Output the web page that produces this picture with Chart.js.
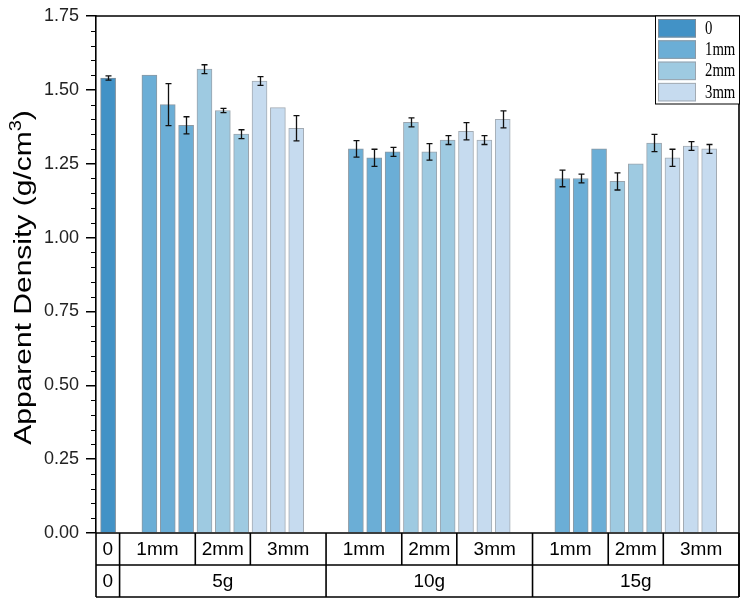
<!DOCTYPE html>
<html>
<head>
<meta charset="utf-8">
<script src="https://cdn.jsdelivr.net/npm/chart.js@4.4.0/dist/chart.umd.min.js"></script>
<style>
html, body { margin: 0; padding: 0; background: #fff; }
#wrap { width: 745px; height: 602px; }
</style>
</head>
<body>
<div id="wrap"><canvas id="chart"></canvas></div>
<script>
// categories
var groups = ['5g', '10g', '15g'];
var sizes = ['1mm', '2mm', '3mm'];
var legendLabels = ['0', '1mm', '2mm', '3mm'];
var yTicks = [0, 0.25, 0.5, 0.75, 1.0, 1.25, 1.5, 1.75];
var yTitle = ['Apparent Density (g/cm', '3', ')'];

// control sample (0)
var density0 = [1.54];
var error0 = [0.007];

// three samples per fibre length, for 5g, 10g, 15g in order
var density1mm = [1.55, 1.45, 1.38, 1.30, 1.27, 1.29, 1.20, 1.20, 1.30];
var error1mm   = [0, 0.071, 0.029, 0.028, 0.029, 0.015, 0.028, 0.015, 0];
var density2mm = [1.57, 1.43, 1.35, 1.39, 1.29, 1.33, 1.19, 1.25, 1.32];
var error2mm   = [0.015, 0.007, 0.015, 0.015, 0.028, 0.015, 0.029, 0, 0.029];
var density3mm = [1.53, 1.44, 1.37, 1.36, 1.33, 1.40, 1.27, 1.31, 1.30];
var error3mm   = [0.015, 0, 0.043, 0.029, 0.015, 0.029, 0.029, 0.015, 0.015];

var colors = ['#4292c6', '#6baed6', '#9ecae1', '#c6dbef'];
var borders = ['#7d8c99', '#8d99a3', '#9aa4ad', '#a3abb3'];

// slot layout: one unit per bar
var groupStart = 2.25, groupStep = 11.25, xMin = -0.66, xMax = 34.375;

var slotX = function (g, s, k) {
    return groupStart + g * groupStep + s * 3 + k;
};

var makePoints = function (values, s) {
    var pts = [];
    for (var c = 0; c < values.length; c++) {
        var g = Math.floor(c / 3);
        pts.push({ x: slotX(g, s, c % 3), y: values[c] });
    }
    return pts;
};

var seriesValues = [density1mm, density2mm, density3mm];
var seriesErrors = [error1mm, error2mm, error3mm];

var datasets = [{
    label: legendLabels[0],
    data: [{ x: 0, y: density0[0] }],
    errors: error0,
    backgroundColor: colors[0],
    borderColor: borders[0]
}];
for (var s = 0; s < 3; s++) {
    datasets.push({
        label: legendLabels[s + 1],
        data: makePoints(seriesValues[s], s),
        errors: seriesErrors[s],
        backgroundColor: colors[s + 1],
        borderColor: borders[s + 1]
    });
}
datasets.forEach(function (d) {
    d.borderWidth = 1;
    d.barThickness = 15;
    d.grouped = false;
});

var errorBars = {
    id: 'errorBars',
    afterDatasetsDraw: function (chart) {
        var ctx = chart.ctx;
        var y = chart.scales.y;
        ctx.save();
        ctx.strokeStyle = '#111';
        ctx.lineWidth = 1.3;
        chart.data.datasets.forEach(function (ds, i) {
            var meta = chart.getDatasetMeta(i);
            meta.data.forEach(function (bar, j) {
                var e = ds.errors[j];
                if (!e) return;
                var v = ds.data[j].y;
                var top = y.getPixelForValue(v + e);
                var bot = y.getPixelForValue(v - e);
                var cx = Math.round(bar.x) + 0.5;
                ctx.beginPath();
                ctx.moveTo(cx, top); ctx.lineTo(cx, bot);
                ctx.moveTo(cx - 3, top); ctx.lineTo(cx + 3, top);
                ctx.moveTo(cx - 3, bot); ctx.lineTo(cx + 3, bot);
                ctx.stroke();
            });
        });
        ctx.restore();
    }
};

var frameAndTable = {
    id: 'frameAndTable',
    afterDraw: function (chart) {
        var ctx = chart.ctx;
        var a = chart.chartArea;
        var x = chart.scales.x;
        var y = chart.scales.y;
        ctx.save();
        ctx.strokeStyle = '#000';

        // minor ticks
        ctx.lineWidth = 1.2;
        ctx.beginPath();
        for (var m = 1; m < 35; m++) {
            if (m % 5 === 0) continue;
            var py = Math.round(y.getPixelForValue(m * 0.05)) + 0.5;
            ctx.moveTo(a.left - 5, py); ctx.lineTo(a.left, py);
        }
        ctx.stroke();

        // top and right frame
        ctx.lineWidth = 1.6;
        ctx.beginPath();
        ctx.moveTo(a.left, a.top); ctx.lineTo(a.right, a.top); ctx.lineTo(a.right, a.bottom);
        ctx.stroke();

        // y title, drawn by hand to get the superscript
        ctx.save();
        ctx.fillStyle = '#000';
        ctx.translate(30.5, (a.top + a.bottom) / 2 + 3);
        ctx.rotate(-Math.PI / 2);
        ctx.scale(1, 0.82);
        var bigFont = '30px "Liberation Sans", Arial, sans-serif';
        var supFont = '20px "Liberation Sans", Arial, sans-serif';
        ctx.font = bigFont;
        var w1 = ctx.measureText(yTitle[0]).width;
        var w3 = ctx.measureText(yTitle[2]).width;
        ctx.font = supFont;
        var w2 = ctx.measureText(yTitle[1]).width;
        var tx = -(w1 + w2 + w3) / 2;
        ctx.textAlign = 'left';
        ctx.textBaseline = 'alphabetic';
        ctx.font = bigFont;
        ctx.fillText(yTitle[0], tx, 0);
        ctx.font = supFont;
        ctx.fillText(yTitle[1], tx + w1, -12);
        ctx.font = bigFont;
        ctx.fillText(yTitle[2], tx + w1 + w2, 0);
        ctx.restore();

        // category table under the plot
        var row1 = a.bottom, row2 = a.bottom + 32, row3 = a.bottom + 64;
        ctx.beginPath();
        ctx.moveTo(a.left, row1); ctx.lineTo(a.right, row1);
        ctx.moveTo(a.left, row2); ctx.lineTo(a.right, row2);
        ctx.moveTo(a.left, row3); ctx.lineTo(a.right, row3);
        ctx.moveTo(a.left, row1); ctx.lineTo(a.left, row3);
        ctx.moveTo(a.right, row1); ctx.lineTo(a.right, row3);
        ctx.stroke();

        ctx.fillStyle = '#000';
        ctx.font = '19px "Liberation Sans", Arial, sans-serif';
        ctx.textAlign = 'center';
        ctx.textBaseline = 'middle';

        var edge0 = groupStart - groupStep / 2 + 4;
        var px0 = x.getPixelForValue(edge0);
        ctx.beginPath();
        ctx.moveTo(px0, row1); ctx.lineTo(px0, row3);
        ctx.stroke();
        ctx.fillText('0', (a.left + px0) / 2, (row1 + row2) / 2 + 1);
        ctx.fillText('0', (a.left + px0) / 2, (row2 + row3) / 2 + 1);

        for (var g = 0; g < groups.length; g++) {
            var gl = slotX(g, 0, 0) + 4 - groupStep / 2;
            var gr = gl + groupStep;
            var pl = x.getPixelForValue(gl), pr = x.getPixelForValue(gr);
            ctx.beginPath();
            ctx.moveTo(pr, row1); ctx.lineTo(pr, row3);
            ctx.stroke();
            ctx.fillText(groups[g], (pl + pr) / 2, (row2 + row3) / 2 + 1);
            for (var s = 0; s < sizes.length; s++) {
                var sl = s === 0 ? gl : slotX(g, s, 0) - 0.5;
                var sr = s === 2 ? gr : slotX(g, s, 2) + 0.5;
                var psl = x.getPixelForValue(sl), psr = x.getPixelForValue(sr);
                if (s > 0) {
                    ctx.beginPath();
                    ctx.moveTo(psl, row1); ctx.lineTo(psl, row2);
                    ctx.stroke();
                }
                ctx.fillText(sizes[s], (psl + psr) / 2, (row1 + row2) / 2 + 1);
            }
        }

        // legend box in the top right corner
        var lx = a.right - 84, ly = a.top, lw = 84, lh = 88;
        ctx.fillStyle = '#fff';
        ctx.fillRect(lx, ly, lw, lh);
        ctx.lineWidth = 1;
        ctx.strokeRect(lx + 0.5, ly, lw, lh);
        ctx.textAlign = 'left';
        for (var c = 0; c < legendLabels.length; c++) {
            var sy = ly + 3 + c * 21.3;
            ctx.fillStyle = colors[c];
            ctx.fillRect(lx + 3, sy, 38, 18.5);
            ctx.strokeStyle = borders[c];
            ctx.strokeRect(lx + 3.5, sy + 0.5, 37, 17.5);
            ctx.save();
            ctx.fillStyle = '#000';
            ctx.font = '18px "Liberation Serif", "Times New Roman", serif';
            ctx.translate(lx + 50, sy + 10);
            ctx.scale(0.82, 1);
            ctx.fillText(legendLabels[c], 0, 0);
            ctx.restore();
        }
        ctx.restore();
    }
};

var ctx = document.getElementById('chart').getContext('2d');
var chart = new Chart(ctx, {
    type: 'bar',
    data: { datasets: datasets },
    options: {
        responsive: true,
        maintainAspectRatio: false,
        animation: false,
        layout: { padding: { top: 16, right: 6, bottom: 69, left: 0 } },
        plugins: {
            legend: { display: false },
            tooltip: { enabled: false }
        },
        scales: {
            x: {
                type: 'linear',
                display: false,
                min: xMin,
                max: xMax,
                offset: false
            },
            y: {
                min: 0,
                max: 1.75,
                afterBuildTicks: function (scale) {
                    scale.ticks = yTicks.map(function (v) { return { value: v }; });
                },
                afterFit: function (scale) {
                    scale.width = 96;
                    scale.paddingTop = 0;
                    scale.paddingBottom = 0;
                },
                ticks: {
                    padding: 7,
                    color: '#222',
                    font: { family: '"Liberation Sans", Arial, sans-serif', size: 18 },
                    callback: function (v) { return Number(v).toFixed(2); }
                },
                grid: {
                    drawOnChartArea: false,
                    drawTicks: true,
                    tickLength: 10,
                    color: '#000',
                    lineWidth: 1.5
                },
                border: { color: '#000', width: 1.6 }
            }
        }
    },
    plugins: [errorBars, frameAndTable]
});
</script>
</body>
</html>
